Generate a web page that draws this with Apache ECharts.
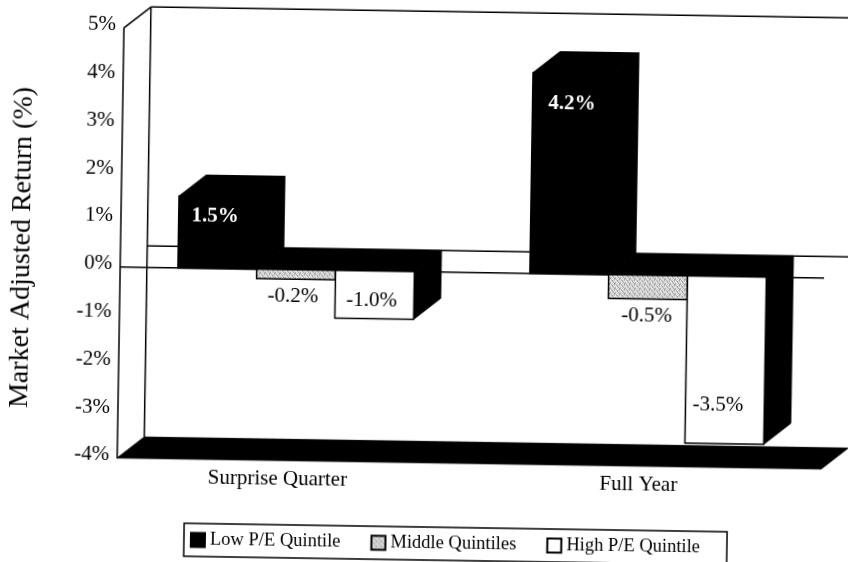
<!DOCTYPE html>
<html>
<head>
<meta charset="utf-8"/>
<title>Market Adjusted Return</title>
<script src="https://cdn.jsdelivr.net/npm/echarts@6/dist/echarts.min.js"></script>
<style type="text/css">
	html, body{
		margin: 0;
		width: 848px;
		height: 562px;
		overflow: hidden;
		background: #fff;
	}
	/* the scanned page sits slightly crooked */
	#chart{
		width: 900px;
		height: 600px;
		transform-origin: 424px 281px;
		transform: rotate(0.9deg);
	}
</style>
</head>
<body>
<div id="chart"></div>
<script type="text/javascript">
	var categories = ['Surprise Quarter', 'Full Year'];
	var lowPE = [1.5, 4.2];
	var middle = [-0.2, -0.5];
	var highPE = [-1.0, -3.5];
	var yTicks = {min: -4, max: 5, interval: 1};

	var FONT = '"Liberation Serif", "Times New Roman", serif';
	var INK = '#000';
	var DEPTH = [26.7, -21.4];   // 3D offset of the back plane
	var BAR_SHARE = 0.224;       // bar width as a share of the category band
	var CATEGORY_NUDGE = [31, 13];  // right padding of each category label

	// speckled grey of the middle bars
	function speckle(){
		var rows = [
			'#a8a8a8', '#e8e8e8', '#c4c4c4', '#f4f4f4', '#9c9c9c',
			'#dcdcdc', '#b4b4b4', '#f6f6f6', '#d0d0d0', '#a6a6a6',
			'#f0f0f0', '#c0c0c0', '#989898', '#e4e4e4', '#bababa',
			'#d8d8d8', '#f4f4f4', '#a8a8a8', '#cccccc', '#eeeeee',
			'#b0b0b0', '#e0e0e0', '#ececec', '#a0a0a0', '#d4d4d4'
		];
		var c = document.createElement('canvas');
		c.width = 5;
		c.height = 5;
		var ctx = c.getContext('2d');
		rows.forEach(function(col, i){
			ctx.fillStyle = col;
			ctx.fillRect(i % 5, Math.floor(i / 5), 1, 1);
		});
		return c;
	}
	var GREY = {image: speckle(), repeat: 'repeat'};

	function shift(p, k){
		return [p[0] + DEPTH[0] * k, p[1] + DEPTH[1] * k];
	}

	function poly(points, fill){
		return {
			type: 'polygon',
			shape: {points: points},
			style: {fill: fill, stroke: INK, lineWidth: 1}
		};
	}

	function line(a, b){
		return {
			type: 'line',
			shape: {x1: a[0], y1: a[1], x2: b[0], y2: b[1]},
			style: {stroke: INK, lineWidth: 1.5}
		};
	}

	// back wall, zero plane edges and floor
	function renderFrame(params, api){
		var cs = params.coordSys;
		var left = cs.x, right = cs.x + cs.width;
		var yTop = api.coord([0, yTicks.max])[1];
		var yZero = api.coord([0, 0])[1];
		var yBottom = api.coord([0, yTicks.min])[1];
		var d = DEPTH;
		return {
			type: 'group',
			children: [
				line([left, yTop], [left + d[0], yTop + d[1]]),
				line([left + d[0], yTop + d[1]], [right + d[0], yTop + d[1]]),
				line([left + d[0], yTop + d[1]], [left + d[0], yBottom + d[1]]),
				line([left + d[0], yZero + d[1]], [right + d[0], yZero + d[1]]),
				line([left, yZero], [right, yZero]),
				poly([
					[left, yBottom],
					[right, yBottom],
					[right + d[0], yBottom + d[1]],
					[left + d[0], yBottom + d[1]]
				], INK)
			]
		};
	}

	// one 3D bar: side, top and front, then its value label
	function barRenderer(slot, fill, labelStyle, labelPlace){
		return function(params, api){
			var cat = api.value(0), val = api.value(1);
			var band = api.size([1, 0])[0];
			var w = band * BAR_SHARE;
			var x0 = api.coord([cat, 0])[0] + (slot - 1.5) * w;
			var x1 = x0 + w;
			var yBase = api.coord([cat, 0])[1];
			var yVal = api.coord([cat, val])[1];
			var yHigh = Math.min(yBase, yVal);
			var place = labelPlace[params.dataIndex];
			return {
				type: 'group',
				children: [
					poly([
						[x1, yBase], shift([x1, yBase], 1),
						shift([x1, yVal], 1), [x1, yVal]
					], INK),
					poly([
						[x0, yHigh], shift([x0, yHigh], 1),
						shift([x1, yHigh], 1), [x1, yHigh]
					], INK),
					{
						type: 'rect',
						shape: {x: x0, y: yHigh, width: w, height: Math.abs(yVal - yBase)},
						style: {fill: fill, stroke: INK, lineWidth: 1.5}
					},
					{
						type: 'text',
						z2: 10,
						style: {
							x: (x0 + x1) / 2 + place[0],
							y: yVal + place[1],
							text: val.toFixed(1) + '%',
							align: 'center',
							verticalAlign: 'middle',
							font: labelStyle,
							fill: labelStyle.indexOf('bold') === 0 ? '#fff' : INK
						}
					}
				]
			};
		};
	}

	function barSeries(name, values, slot, fill, labelStyle, labelPlace){
		return {
			name: name,
			type: 'custom',
			silent: true,
			itemStyle: {color: fill, borderColor: INK, borderWidth: 1},
			renderItem: barRenderer(slot, fill, labelStyle, labelPlace),
			data: values.map(function(v, i){ return [i, v]; })
		};
	}

	var chart = echarts.init(document.getElementById('chart'), null, {renderer: 'canvas'});
	chart.setOption({
		backgroundColor: '#fff',
		animation: false,
		grid: {left: 116, top: 32.7, width: 708, height: 430.1},
		legend: {
			left: 188,
			top: 527,
			icon: 'rect',
			itemWidth: 14,
			itemHeight: 14,
			itemGap: 30,
			padding: [7, 27, 7, 6],
			borderColor: INK,
			borderWidth: 1.5,
			selectedMode: false,
			textStyle: {color: INK, fontFamily: FONT, fontSize: 18.5},
			data: ['Low P/E Quintile', 'Middle Quintiles', 'High P/E Quintile']
		},
		xAxis: {
			type: 'category',
			data: categories.map(function(name, i){
				return {value: name, textStyle: {padding: [0, CATEGORY_NUDGE[i], 0, 0]}};
			}),
			axisLine: {show: false},
			axisTick: {show: false},
			axisLabel: {
				margin: 8,
				color: INK,
				fontFamily: FONT,
				fontSize: 21
			}
		},
		yAxis: {
			type: 'value',
			min: yTicks.min,
			max: yTicks.max,
			interval: yTicks.interval,
			name: 'Market Adjusted Return (%)',
			nameLocation: 'middle',
			nameGap: 84,
			nameTextStyle: {color: INK, fontFamily: FONT, fontSize: 28, padding: [0, 12, 0, 0]},
			axisLine: {show: true, onZero: false, lineStyle: {color: INK, width: 1.5}},
			axisTick: {show: false},
			splitLine: {show: false},
			axisLabel: {
				margin: 8,
				formatter: '{value}%',
				color: INK,
				fontFamily: FONT,
				fontSize: 21,
				verticalAlign: 'bottom',
				lineHeight: 6
			}
		},
		series: [
			{
				type: 'custom',
				silent: true,
				z: 1,
				renderItem: renderFrame,
				data: [[0, 0]]
			},
			barSeries('Low P/E Quintile', lowPE, 0, INK, 'bold 21px ' + FONT, [[-3, 20], [0, 31]]),
			barSeries('Middle Quintiles', middle, 1, GREY, '21px ' + FONT, [[-3, 17], [-1, 17]]),
			barSeries('High P/E Quintile', highPE, 2, '#fff', '21px ' + FONT, [[-3, -18], [-7, -38]])
		]
	});
</script>
</body>
</html>
